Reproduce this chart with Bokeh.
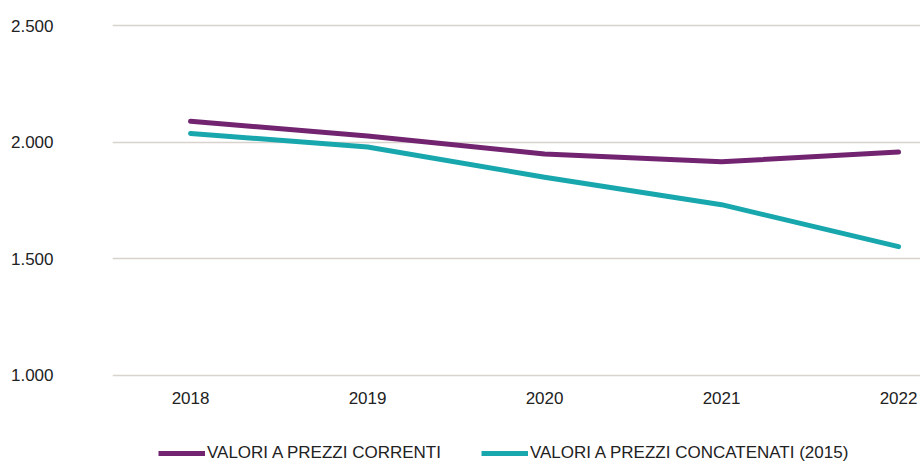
from bokeh.plotting import figure
from bokeh.layouts import column
from bokeh.models import Legend, LegendItem, FixedTicker, Range1d, ColumnDataSource
from bokeh.embed import file_html
from bokeh.resources import INLINE

years = [2018, 2019, 2020, 2021, 2022]
correnti = [2090, 2027, 1950, 1916, 1958]
concatenati = [2038, 1980, 1850, 1732, 1552]
y_ticks = [1000, 1500, 2000, 2500]
y_labels = {1000: "1.000", 1500: "1.500", 2000: "2.000", 2500: "2.500"}
series_names = ["VALORI A PREZZI CORRENTI", "VALORI A PREZZI CONCATENATI (2015)"]
colors = ["#722471", "#19a7ae"]

FONT = "Liberation Sans"

xr = Range1d(2017.559, 2022.124)
p = figure(width=920, height=420, output_backend="svg", toolbar_location=None,
           x_range=xr, y_range=Range1d(990, 2510),
           min_border_left=112, min_border_right=0, min_border_top=23, min_border_bottom=43)
p.outline_line_color = None
p.background_fill_color = "white"

src = ColumnDataSource(dict(x=years, a=correnti, b=concatenati))
p.line("x", "a", source=src, line_color=colors[0], line_width=5, line_cap="round", line_join="round")
p.line("x", "b", source=src, line_color=colors[1], line_width=5, line_cap="round", line_join="round")

p.xgrid.grid_line_color = None
p.ygrid.grid_line_color = "#d9d3ce"
p.ygrid.grid_line_width = 1.6
p.ygrid.ticker = FixedTicker(ticks=y_ticks)

p.yaxis.ticker = FixedTicker(ticks=y_ticks)
p.yaxis.major_label_overrides = y_labels
p.yaxis.axis_line_color = None
p.yaxis.major_tick_line_color = None
p.yaxis.minor_tick_line_color = None
p.yaxis.major_label_standoff = 53
p.yaxis.major_label_text_font = FONT
p.yaxis.major_label_text_font_size = "17px"
p.yaxis.major_label_text_color = "#222222"

p.xaxis.ticker = FixedTicker(ticks=years)
p.xaxis.axis_line_color = None
p.xaxis.major_tick_line_color = None
p.xaxis.minor_tick_line_color = None
p.xaxis.major_label_standoff = 8
p.xaxis.major_label_text_font = FONT
p.xaxis.major_label_text_font_size = "17px"
p.xaxis.major_label_text_color = "#222222"

# legend strip below the chart (same series, drawn out of its view; only the legend shows)
lg = figure(width=920, height=45, output_backend="svg", toolbar_location=None,
            x_range=xr, y_range=Range1d(0, 1),
            x_axis_type=None, y_axis_type=None,
            min_border_left=112, min_border_right=0, min_border_top=0, min_border_bottom=0)
lg.outline_line_color = None
lg.xgrid.visible = False
lg.ygrid.visible = False
d1 = lg.line("x", "a", source=src, line_color=colors[0], line_width=5)
d2 = lg.line("x", "b", source=src, line_color=colors[1], line_width=5)

legend = Legend(items=[LegendItem(label=series_names[0], renderers=[d1]),
                       LegendItem(label=series_names[1], renderers=[d2])],
                location=(46, 2), orientation="horizontal",
                padding=0, margin=0, spacing=40, label_standoff=2,
                glyph_width=47, glyph_height=16, label_height=16,
                border_line_color=None, background_fill_alpha=0,
                label_text_font=FONT, label_text_font_size="17px", label_text_color="#222222")
lg.add_layout(legend, "center")

layout = column(p, lg, spacing=0)
open("out.html", "w").write(file_html(layout, INLINE))
